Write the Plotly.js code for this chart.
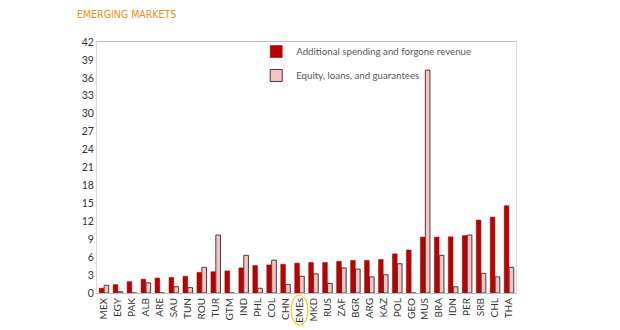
<!DOCTYPE html>
<html>
<head>
<meta charset="utf-8">
<script src="https://cdn.plot.ly/plotly-3.0.1.min.js"></script>
<style>html,body{margin:0;padding:0;background:#fff;}#chart{width:620px;height:330px;}</style>
</head>
<body>
<div id="chart"></div>
<script>
const categories = ["MEX","EGY","PAK","ALB","ARE","SAU","TUN","ROU","TUR","GTM","IND","PHL","COL","CHN","EMEs","MKD","RUS","ZAF","BGR","ARG","KAZ","POL","GEO","MUS","BRA","IDN","PER","SRB","CHL","THA"];
const spending = [0.8,1.4,1.9,2.3,2.5,2.6,2.8,3.45,3.55,3.7,4.2,4.6,4.7,4.8,5.0,5.1,5.1,5.3,5.45,5.45,5.6,6.55,7.2,9.35,9.35,9.4,9.6,12.2,12.7,14.6];
const equity = [1.3,0.2,0,1.7,0,1.05,0.9,4.3,9.7,0,6.3,0.8,5.5,1.45,2.8,3.2,1.6,4.2,4.0,2.7,3.05,4.9,0,37.3,6.3,1.05,9.7,3.3,2.7,4.3];
const yTicks = [0,3,6,9,12,15,18,21,24,27,30,33,36,39,42];
const seriesNames = ["Additional spending and forgone revenue","Equity, loans, and guarantees"];
const highlight = "EMEs";

const hi = categories.indexOf(highlight);
const data = [
  {type:'bar', x:categories, y:spending, name:seriesNames[0], legendgroup:'a',
   marker:{color:'#C00000', line:{color:'#7a0000', width:0.5}}},
  {type:'bar', x:categories, y:equity, name:seriesNames[1], legendgroup:'b',
   marker:{color:'#F2C4C4', line:{color:'#4d3a3a', width:1}}}
];
const layout = {
  width:620, height:330,
  margin:{l:97, r:104, t:42, b:37},
  paper_bgcolor:'#fff', plot_bgcolor:'#fff',
  font:{family:'Lato, "Open Sans", sans-serif', size:10, color:'#333'},
  barmode:'group', bargap:0.3, bargroupgap:0.05,
  showlegend:true,
  legend:{x:0.38, y:1.02, xanchor:'left', yanchor:'top', bgcolor:'rgba(0,0,0,0)',
          font:{size:9.7, color:'#595959'}, itemwidth:30, tracegroupgap:5},
  xaxis:{type:'category', tickangle:-90, showline:true, linecolor:'#bfbfbf', linewidth:1,
         mirror:true, ticks:'', tickfont:{size:10, color:'#333'}, showgrid:false},
  yaxis:{range:[0,42], tickvals:yTicks, showline:true, linecolor:'#d9d9d9', mirror:true,
         showgrid:false, zeroline:false, ticks:'', tickfont:{size:10.5, color:'#333'}},
  annotations:[{xref:'paper', yref:'paper', x:-0.053, y:1.11, xanchor:'left', yanchor:'middle',
    text:'EMERGING MARKETS', showarrow:false,
    font:{family:'"DejaVu Sans Condensed", Lato, sans-serif', size:10.5, color:'#E8901C'}}],
  shapes:[{type:'circle', xref:'x', yref:'paper', x0:hi-0.6, x1:hi+0.6, y0:-0.127, y1:-0.008,
    line:{color:'#F2D024', width:1.2}}]
};
Plotly.newPlot('chart', data, layout, {displayModeBar:false, staticPlot:true});
</script>
</body>
</html>
